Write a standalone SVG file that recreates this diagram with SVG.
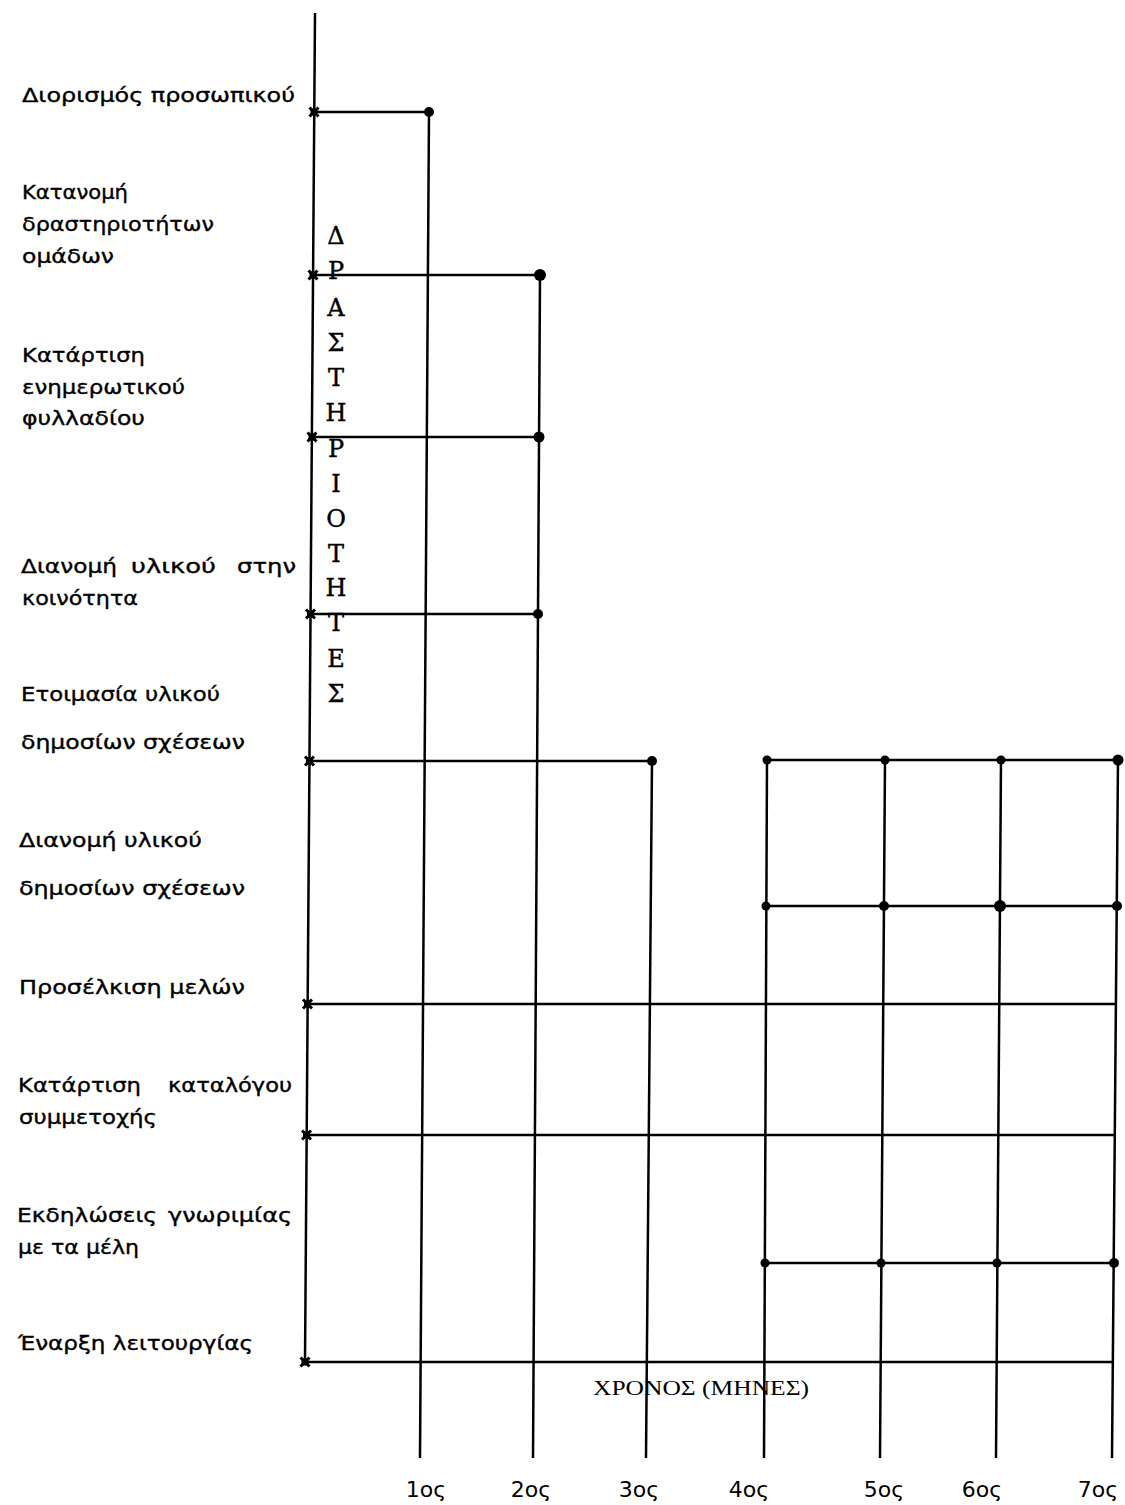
<svg xmlns="http://www.w3.org/2000/svg" xmlns:xlink="http://www.w3.org/1999/xlink" width="1125" height="1505" viewBox="0 0 1125 1505">
<style>
  .ln { stroke:#000; stroke-width:2.5; fill:none; stroke-linecap:butt; }
  .dot { fill:#000; }
  .lbl { font-family:"DejaVu Sans","Liberation Sans",sans-serif; font-size:19.5px; fill:#000; stroke:#000; stroke-width:0.35; }
  .vt { font-family:"DejaVu Serif","Liberation Serif",serif; font-size:24px; fill:#000; text-anchor:middle; stroke:#000; stroke-width:0.4; }
  .ax { font-family:"Liberation Serif","DejaVu Serif",serif; font-size:22px; fill:#000; }
  .mo { font-family:"DejaVu Sans","Liberation Sans",sans-serif; font-size:22px; fill:#000; text-anchor:middle; }
</style>
<defs>
  <g id="star">
    <line x1="-4.5" y1="-4.5" x2="4.5" y2="4.5" stroke="#000" stroke-width="3"/>
    <line x1="-4.5" y1="4.5" x2="4.5" y2="-4.5" stroke="#000" stroke-width="3"/>
    <rect x="-3.5" y="-3.5" width="7" height="7" fill="#000"/>
  </g>
</defs>
<rect width="1125" height="1505" fill="#fff"/>

<g id="axis">
  <line class="ln" x1="315" y1="13" x2="305" y2="1362"/>
  <g id="axis-title">
    <text class="vt" x="336" y="244">Δ</text>
    <text class="vt" x="336" y="279">Ρ</text>
    <text class="vt" x="336" y="316">Α</text>
    <text class="vt" x="336" y="351">Σ</text>
    <text class="vt" x="336" y="386">Τ</text>
    <text class="vt" x="336" y="421">Η</text>
    <text class="vt" x="336" y="457">Ρ</text>
    <text class="vt" x="336" y="492">Ι</text>
    <text class="vt" x="336" y="527">Ο</text>
    <text class="vt" x="336" y="562">Τ</text>
    <text class="vt" x="336" y="596">Η</text>
    <text class="vt" x="336" y="631">Τ</text>
    <text class="vt" x="336" y="667">Ε</text>
    <text class="vt" x="336" y="702">Σ</text>
  </g>
  <text class="ax" x="593" y="1395" textLength="216" lengthAdjust="spacingAndGlyphs">ΧΡΟΝΟΣ (ΜΗΝΕΣ)</text>
</g>

<g id="connectors">
  <line class="ln" x1="429" y1="112" x2="420" y2="1458"/>
  <line class="ln" x1="540" y1="275" x2="533" y2="1458"/>
  <line class="ln" x1="652" y1="760" x2="646" y2="1458"/>
  <line class="ln" x1="767" y1="760" x2="764" y2="1458"/>
  <line class="ln" x1="885" y1="760" x2="880" y2="1458"/>
  <line class="ln" x1="1001" y1="760" x2="996" y2="1458"/>
  <line class="ln" x1="1118" y1="760" x2="1112" y2="1458"/>
</g>

<g id="months">
  <text class="mo" x="426" y="1497">1ος</text>
  <text class="mo" x="531" y="1497">2ος</text>
  <text class="mo" x="639" y="1497">3ος</text>
  <text class="mo" x="749" y="1497">4ος</text>
  <text class="mo" x="884" y="1497">5ος</text>
  <text class="mo" x="982" y="1497">6ος</text>
  <text class="mo" x="1098" y="1497">7ος</text>
</g>

<g id="row-diorismos">
  <text class="lbl" x="22" y="102" textLength="273" lengthAdjust="spacingAndGlyphs">Διορισμός προσωπικού</text>
  <line class="ln" x1="314" y1="112" x2="429" y2="112"/>
  <use href="#star" x="314" y="112"/>
  <circle class="dot" cx="429" cy="112" r="5"/>
</g>

<g id="row-katanomi">
  <text class="lbl" x="22" y="199" textLength="106" lengthAdjust="spacingAndGlyphs">Κατανομή</text>
  <text class="lbl" x="22" y="231" textLength="192" lengthAdjust="spacingAndGlyphs">δραστηριοτήτων</text>
  <text class="lbl" x="22" y="263" textLength="92" lengthAdjust="spacingAndGlyphs">ομάδων</text>
  <line class="ln" x1="313" y1="275" x2="540" y2="275"/>
  <use href="#star" x="313" y="275"/>
  <circle class="dot" cx="540" cy="275" r="6"/>
</g>

<g id="row-fylladio">
  <text class="lbl" x="22" y="362" textLength="123" lengthAdjust="spacingAndGlyphs">Κατάρτιση</text>
  <text class="lbl" x="22" y="394" textLength="163" lengthAdjust="spacingAndGlyphs">ενημερωτικού</text>
  <text class="lbl" x="22" y="425" textLength="123" lengthAdjust="spacingAndGlyphs">φυλλαδίου</text>
  <line class="ln" x1="312" y1="437" x2="539" y2="437"/>
  <use href="#star" x="312" y="437"/>
  <circle class="dot" cx="539" cy="437" r="5.5"/>
</g>

<g id="row-koinotita">
  <text class="lbl" y="573"><tspan x="21" textLength="96" lengthAdjust="spacingAndGlyphs">Διανομή</tspan><tspan x="131" textLength="85" lengthAdjust="spacingAndGlyphs">υλικού</tspan><tspan x="237" textLength="59" lengthAdjust="spacingAndGlyphs">στην</tspan></text>
  <text class="lbl" x="22" y="605" textLength="116" lengthAdjust="spacingAndGlyphs">κοινότητα</text>
  <line class="ln" x1="310.5" y1="614" x2="538" y2="614"/>
  <use href="#star" x="310.5" y="614"/>
  <circle class="dot" cx="538" cy="614" r="5"/>
</g>

<g id="row-etoimasia">
  <text class="lbl" x="21" y="701" textLength="199" lengthAdjust="spacingAndGlyphs">Ετοιμασία υλικού</text>
  <text class="lbl" x="21" y="749" textLength="224" lengthAdjust="spacingAndGlyphs">δημοσίων σχέσεων</text>
  <line class="ln" x1="309.5" y1="761" x2="652" y2="761"/>
  <line class="ln" x1="767" y1="760" x2="1118" y2="760"/>
  <use href="#star" x="309.5" y="761"/>
  <circle class="dot" cx="652" cy="761" r="5"/>
  <circle class="dot" cx="767" cy="760" r="4.5"/>
  <circle class="dot" cx="885" cy="760" r="4.5"/>
  <circle class="dot" cx="1001" cy="760" r="4.5"/>
  <circle class="dot" cx="1118" cy="760" r="5.5"/>
</g>

<g id="row-dianomi-sxeseon">
  <text class="lbl" x="19" y="847" textLength="183" lengthAdjust="spacingAndGlyphs">Διανομή υλικού</text>
  <text class="lbl" x="19" y="895" textLength="226" lengthAdjust="spacingAndGlyphs">δημοσίων σχέσεων</text>
  <line class="ln" x1="766" y1="906" x2="1117" y2="906"/>
  <circle class="dot" cx="766" cy="906" r="4.5"/>
  <circle class="dot" cx="884" cy="906" r="5"/>
  <circle class="dot" cx="1000" cy="906" r="6"/>
  <circle class="dot" cx="1117" cy="906" r="5"/>
</g>

<g id="row-proselkisi">
  <text class="lbl" x="19" y="994" textLength="226" lengthAdjust="spacingAndGlyphs">Προσέλκιση μελών</text>
  <line class="ln" x1="307.5" y1="1004" x2="1116" y2="1004"/>
  <use href="#star" x="307.5" y="1004"/>
</g>

<g id="row-katalogos">
  <text class="lbl" y="1092"><tspan x="18" textLength="123" lengthAdjust="spacingAndGlyphs">Κατάρτιση</tspan><tspan x="168" textLength="124" lengthAdjust="spacingAndGlyphs">καταλόγου</tspan></text>
  <text class="lbl" x="19" y="1124" textLength="138" lengthAdjust="spacingAndGlyphs">συμμετοχής</text>
  <line class="ln" x1="306.5" y1="1135" x2="1115" y2="1135"/>
  <use href="#star" x="306.5" y="1135"/>
</g>

<g id="row-ekdiloseis">
  <text class="lbl" y="1222"><tspan x="17" textLength="140" lengthAdjust="spacingAndGlyphs">Εκδηλώσεις</tspan><tspan x="168" textLength="124" lengthAdjust="spacingAndGlyphs">γνωριμίας</tspan></text>
  <text class="lbl" x="18" y="1254" textLength="121" lengthAdjust="spacingAndGlyphs">με τα μέλη</text>
  <line class="ln" x1="765" y1="1263" x2="1114" y2="1263"/>
  <circle class="dot" cx="765" cy="1263" r="4.5"/>
  <circle class="dot" cx="881" cy="1263" r="4.5"/>
  <circle class="dot" cx="997" cy="1263" r="4.5"/>
  <circle class="dot" cx="1114" cy="1263" r="5"/>
</g>

<g id="row-enarxi">
  <text class="lbl" x="18" y="1350" textLength="235" lengthAdjust="spacingAndGlyphs">Έναρξη λειτουργίας</text>
  <line class="ln" x1="305" y1="1362" x2="1113" y2="1362"/>
  <use href="#star" x="305" y="1362"/>
</g>
</svg>
